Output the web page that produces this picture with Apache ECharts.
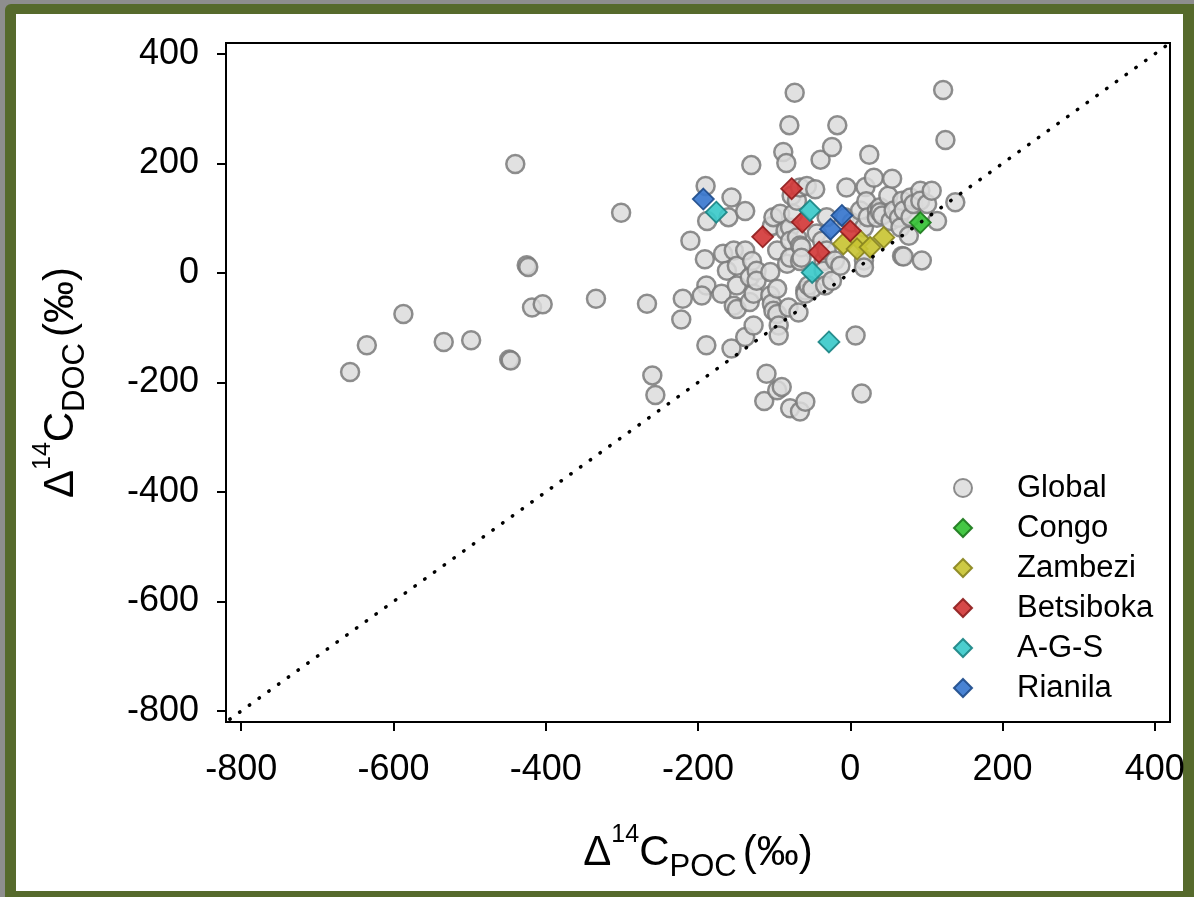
<!DOCTYPE html>
<html>
<head>
<meta charset="utf-8">
<script src="https://cdn.jsdelivr.net/npm/echarts@6/dist/echarts.min.js"></script>
<style>
  html, body { margin: 0; padding: 0; width: 1194px; height: 897px; overflow: hidden; background: #8e8e8e; }
  #frame { position: absolute; left: 5px; top: 4px; width: 1189px; height: 893px; background: #566a2c; border-top-left-radius: 6px; }
  #panel { position: absolute; left: 16px; top: 14px; width: 1167px; height: 877px; background: #ffffff; }
  #chart { position: absolute; left: 0; top: 0; width: 1194px; height: 897px; }
</style>
</head>
<body>
<div id="frame"></div>
<div id="panel"></div>
<div id="chart"></div>
<script>
// Radiocarbon of particulate (x) vs dissolved (y) organic carbon, in per mil
const tickValues = [-800, -600, -400, -200, 0, 200, 400];
const oneToOne = [[-815, -815], [415, 415]];

const globalRivers = [
  [-657, -181], [-635, -132], [-587, -75], [-534, -126], [-498, -123], [-448, -158], [-446, -160],
  [-440, 199], [-425, 14], [-423, 11], [-418, -63], [-404, -57], [-334, -47], [-301, 110],
  [-267, -56], [-260, -187], [-256, -223], [-222, -85], [-220, -47], [-210, 59],
  [-190, 159], [-188, 95], [-191, 25], [-189, -23], [-195, -41], [-189, -132], [-169, -38],
  [-167, 35], [-162, 4], [-160, 102], [-156, 138], [-156, -138], [-153, 41], [-153, -60],
  [-149, 13], [-149, -23], [-149, -66], [-138, 113], [-138, 41], [-138, -117], [-132, -8],
  [-132, -53], [-130, 197], [-129, 22], [-127, -38], [-127, -96], [-123, 4], [-123, -14],
  [-113, -234], [-110, -184], [-105, 2], [-105, -41], [-103, 86], [-103, -56], [-101, 102],
  [-101, -69], [-96, 41], [-96, -29], [-96, -75], [-96, -214], [-94, -96], [-94, -114],
  [-92, 108], [-90, -208], [-88, 221], [-85, 77], [-84, 201], [-83, 17], [-81, -63],
  [-80, 270], [-79, 83], [-79, 59], [-79, 28], [-79, -247], [-77, 141], [-75, 108],
  [-73, 329], [-70, 132], [-70, 65], [-68, -72], [-66, 156], [-66, 50], [-66, 22],
  [-66, -253], [-64, 47], [-64, 28], [-59, -235], [-59, -32], [-59, -38], [-57, 159],
  [-55, -23], [-50, -29], [-46, 153], [-44, 72], [-39, 207], [-37, 59], [-35, 22], [-35, 4],
  [-33, -23], [-31, 102], [-31, 41], [-24, 230], [-24, -14], [-20, 23], [-17, 270], [-13, 13],
  [-7, 102], [-5, 156], [2, 92], [7, -114], [13, 114], [15, -220], [18, 83], [18, 23], [18, 10],
  [20, 157], [21, 131], [23, 102], [25, 216], [31, 174], [35, 114], [35, 101], [39, 120],
  [39, 111], [42, 105], [50, 141], [53, 95], [55, 172], [57, 114], [64, 101], [66, 83],
  [68, 132], [68, 31], [70, 114], [70, 30], [77, 68], [79, 138], [79, 102], [83, 126],
  [92, 150], [92, 132], [94, 23], [101, 126], [107, 150], [114, 95], [122, 334], [125, 243],
  [138, 129]
];
const congo = [[92, 92]];
const zambezi = [[-9, 53], [13, 59], [9, 44], [26, 47], [44, 65]];
const betsiboka = [[-77, 154], [-63, 93], [-115, 66], [-41, 38], [0, 77]];
const ags = [[-176, 111], [-53, 114], [-50, 1], [-28, -126]];
const rianila = [[-193, 135], [-11, 105], [-26, 80]];

const seriesNames = ['Global', 'Congo', 'Zambezi', 'Betsiboka', 'A-G-S', 'Rianila'];

const fontFamily = '"Liberation Sans", Arial, sans-serif';

function diamondSeries(name, data, fill, border) {
  return {
    name: name,
    type: 'scatter',
    data: data,
    symbol: 'diamond',
    symbolSize: 21,
    itemStyle: { color: fill, borderColor: border, borderWidth: 1.8, opacity: 0.92 },
    z: 3
  };
}

function titleRich() {
  return {
    m: { fontSize: 42, lineHeight: 60, fontFamily: fontFamily, color: '#000' },
    sp: { fontSize: 22, lineHeight: 60, fontFamily: fontFamily, color: '#000' },
    sup: { fontSize: 25, lineHeight: 32, verticalAlign: 'top', fontFamily: fontFamily, color: '#000' },
    sub: { fontSize: 31, lineHeight: 16, verticalAlign: 'bottom', fontFamily: fontFamily, color: '#000' }
  };
}

function valueAxis(name, gap, labelMargin) {
  return {
    type: 'value',
    min: -820,
    max: 420,
    name: name,
    nameLocation: 'middle',
    nameGap: gap,
    nameTextStyle: { rich: titleRich() },
    splitLine: { show: false },
    axisLine: { show: true, onZero: false, lineStyle: { color: '#000', width: 2 } },
    axisTick: { show: true, inside: false, length: 9, customValues: tickValues, lineStyle: { color: '#000', width: 2 } },
    axisLabel: { customValues: tickValues, fontSize: 36, color: '#000', fontFamily: fontFamily, margin: labelMargin }
  };
}

const chart = echarts.init(document.getElementById('chart'), null, { renderer: 'canvas' });
chart.setOption({
  animation: false,
  backgroundColor: 'transparent',
  textStyle: { fontFamily: fontFamily },
  grid: { left: 226, top: 43, right: 24, bottom: 175, show: true, borderColor: '#000', borderWidth: 2, backgroundColor: 'transparent' },
  xAxis: valueAxis('{m|Δ}{sup|14}{m|C}{sub|POC}{sp|\u00a0}{m|(‰)}', 101, 30),
  yAxis: valueAxis('{m|Δ}{sup|14}{m|C}{sub|DOC}{sp|\u00a0}{m|(‰)}', 135, 27),
  legend: {
    data: seriesNames,
    orient: 'vertical',
    left: 953,
    top: 468,
    padding: 0,
    itemGap: 0,
    itemWidth: 18,
    itemHeight: 18,
    textStyle: { fontSize: 31, color: '#000', fontFamily: fontFamily, lineHeight: 40, padding: [0, 0, 0, 40] }
  },
  series: [
    {
      name: 'Global',
      type: 'scatter',
      data: globalRivers,
      symbol: 'circle',
      symbolSize: 18,
      itemStyle: { color: '#dcdcdc', borderColor: '#7a7a7a', borderWidth: 2.5, opacity: 0.85 },
      z: 2
    },
    diamondSeries('Congo', congo, '#35c235', '#1d7a1d'),
    diamondSeries('Zambezi', zambezi, '#c9c434', '#8a8620'),
    diamondSeries('Betsiboka', betsiboka, '#d33a3a', '#8f1f1f'),
    diamondSeries('A-G-S', ags, '#3ccaca', '#1c8686'),
    diamondSeries('Rianila', rianila, '#3a78cf', '#1f4d8c'),
    {
      name: '1:1',
      type: 'line',
      data: oneToOne,
      symbol: 'none',
      silent: true,
      lineStyle: { color: '#000', width: 3.5, type: [0.5, 11.5], cap: 'round' },
      z: 5
    }
  ]
});
</script>
</body>
</html>
